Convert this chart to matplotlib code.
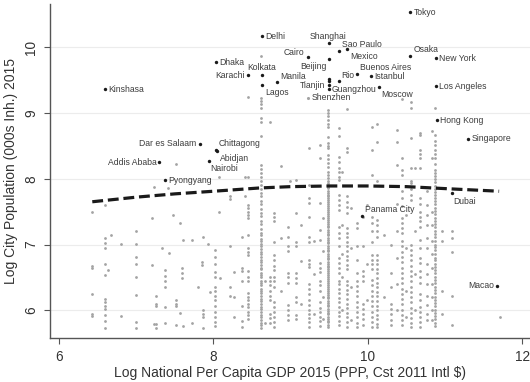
import matplotlib

matplotlib.use("Agg")
import matplotlib.pyplot as plt

# labelled cities (black markers, Shenzhen is grey in the source)
city_names = [
    "Tokyo", "Delhi", "Shanghai", "Sao Paulo", "Mexico", "Cairo", "Beijing",
    "Osaka", "New York", "Dhaka", "Karachi", "Kolkata", "Manila", "Lagos",
    "Tianjin", "Guangzhou", "Rio", "Buenos Aires", "Istanbul", "Moscow",
    "Los Angeles", "Shenzhen", "Kinshasa", "Hong Kong", "Singapore",
    "Dar es Salaam", "Chittagong", "Abidjan", "Addis Ababa", "Nairobi",
    "Pyongyang", "Panama City", "Dubai", "Macao",
]
city_gdp = [
    10.55, 8.63, 9.49, 9.62, 9.73, 9.22, 9.49, 10.55, 10.88, 8.03, 8.45, 8.63,
    8.82, 8.63, 9.49, 9.49, 9.62, 9.86, 10.04, 10.14, 10.88, 9.23, 6.60, 10.89,
    11.30, 7.82, 8.03, 8.05, 7.30, 7.94, 7.37, 9.92, 11.09, 11.67,
]
city_pop = [
    10.53, 10.17, 10.06, 9.95, 9.97, 9.85, 9.82, 9.87, 9.83, 9.77, 9.57, 9.58,
    9.47, 9.42, 9.42, 9.36, 9.48, 9.60, 9.56, 9.39, 9.41, 9.23, 9.36, 8.89,
    8.61, 8.53, 8.44, 8.42, 8.25, 8.27, 7.98, 7.44, 7.78, 6.37,
]

# two unlabelled black points in the China column
extra_gdp = [9.49, 9.49]
extra_pop = [9.52, 9.48]

# all other cities, grouped by country (national GDP, list of city sizes)
grey_columns = [
    (6.42, [7.49, 6.68, 6.65, 6.25, 5.95, 5.91]),
    (6.59, [7.60, 7.10, 7.02, 6.94, 6.71, 6.53, 6.17, 6.12, 6.07, 6.02, 5.93, 5.83, 5.73]),
    (6.64, [6.61]),
    (6.67, [7.15]),
    (6.80, [7.01, 5.91]),
    (7.00, [7.20, 7.01, 6.81, 6.70, 6.50, 6.23, 5.82, 5.73]),
    (7.20, [7.41, 6.69]),
    (7.23, [7.87, 5.79]),
    (7.26, [6.21, 6.10, 6.06, 5.79, 5.73]),
    (7.33, [6.94]),
    (7.37, [6.61, 6.52, 6.44, 6.36, 6.05, 5.81]),
    (7.41, [7.86]),
    (7.42, [6.87]),
    (7.47, [7.45]),
    (7.51, [8.22, 6.16, 6.10, 6.06, 5.78]),
    (7.57, [7.32, 5.96]),
    (7.59, [6.64, 6.56, 6.49]),
    (7.60, [7.07, 5.76]),
    (7.72, [7.07, 5.80]),
    (7.80, [6.36]),
    (7.85, [6.74, 6.69]),
    (7.87, [7.12, 6.00, 5.95, 5.90, 5.73]),
    (7.93, [7.01]),
    (7.96, [6.28]),
    (8.02, [6.92, 6.81, 6.70, 6.58, 6.51, 6.36, 6.30, 6.22, 6.16, 6.06, 5.98, 5.90, 5.82, 5.76]),
    (8.07, [8.03, 7.49]),
    (8.09, [6.49]),
    (8.21, [7.73, 7.69, 6.36]),
    (8.22, [6.97, 6.21]),
    (8.26, [6.58, 6.20, 5.90]),
    (8.37, [7.12, 6.64, 6.59, 6.44, 6.07, 5.83, 5.75]),
    (8.41, [8.02, 7.73]),
    (8.45, [9.25, 8.02, 7.60, 7.55, 7.50, 7.45, 7.40, 7.15, 6.94, 6.89, 6.84, 6.59,
            6.50, 6.44, 6.26, 6.20, 6.16, 6.10, 6.05, 5.98, 5.93, 5.87]),
    (8.61, [9.87, 9.23, 9.18, 9.13, 9.08, 8.93, 8.87, 8.65, 8.21, 8.15, 8.09,
            8.02, 7.96, 7.91, 7.84, 7.78, 7.73, 7.66, 7.61, 7.54, 7.48, 7.43, 7.36,
            7.31, 7.24, 7.18, 7.14, 7.09, 7.05, 7.01, 6.98, 6.93, 6.89, 6.86, 6.81,
            6.77, 6.74, 6.69, 6.65, 6.62, 6.57, 6.53, 6.50, 6.45, 6.41, 6.38, 6.33,
            6.29, 6.26, 6.21, 6.17, 6.14, 6.09, 6.05, 6.02, 5.97, 5.93, 5.90, 5.85,
            5.81, 5.78, 5.73]),
    (8.67, [6.45, 5.80]),
    (8.73, [8.86, 6.51, 6.45, 6.38, 6.30, 6.22, 6.16, 5.95, 5.88, 5.80]),
    (8.79, [7.48, 7.42, 7.36, 7.04, 6.84, 6.76, 6.68, 6.61, 6.51, 6.44, 6.36,
            6.13, 6.05, 5.97, 5.90, 5.82, 5.75]),
    (8.88, [8.19, 7.10, 6.30]),
    (8.97, [7.27, 7.12, 6.97, 6.90, 6.57, 6.50, 6.42, 6.08, 6.00, 5.93, 5.85]),
    (8.99, [7.97]),
    (9.07, [7.98, 7.48, 7.04, 6.97, 6.57, 6.49, 6.42, 6.20, 6.13, 5.93, 5.86]),
    (9.13, [7.30, 6.75, 6.10]),
    (9.24, [8.47, 7.91, 7.71, 7.63, 7.42, 7.12, 7.04, 6.77, 6.70, 6.66, 6.40,
            6.33, 6.25, 6.15, 6.08, 6.00, 5.95, 5.88, 5.82, 5.75]),
    (9.30, [7.05, 6.55, 5.95]),
    (9.38, [8.52, 8.31, 7.63, 7.22, 7.07, 6.72, 6.65, 6.58, 6.45, 6.38, 6.30,
            6.12, 6.04, 5.97, 5.90, 5.83, 5.76]),
    (9.42, [7.40, 6.90, 6.20, 5.86]),
    (9.48, [9.05, 9.00, 8.95, 8.90, 8.84, 8.79, 8.64, 8.55, 8.50, 8.47, 8.36,
            8.30, 8.24, 8.18, 8.11, 8.05, 8.01, 7.97, 7.94, 7.91, 7.88, 7.86, 7.82,
            7.79, 7.76, 7.74, 7.70, 7.67, 7.64, 7.62, 7.58, 7.55, 7.52, 7.50, 7.46,
            7.43, 7.40, 7.38, 7.34, 7.31, 7.28, 7.26, 7.22, 7.19, 7.16, 7.14, 7.10,
            7.07, 7.04, 7.02, 6.98, 6.95, 6.92, 6.90, 6.86, 6.83, 6.80, 6.78, 6.74,
            6.71, 6.68, 6.66, 6.62, 6.59, 6.56, 6.54, 6.50, 6.47, 6.44, 6.42, 6.38,
            6.35, 6.32, 6.30, 6.26, 6.23, 6.20, 6.18, 6.14, 6.11, 6.08, 6.06, 6.02,
            5.99, 5.96, 5.94, 5.90, 5.87, 5.84, 5.82, 5.78, 5.75]),
    (9.62, [8.77, 8.65, 8.33, 8.25, 8.17, 8.10, 8.03, 7.98, 7.75, 7.68, 7.60,
            7.52, 7.27, 7.18, 7.10, 6.97, 6.80, 6.72, 6.65, 6.57, 6.45, 6.40, 6.33,
            6.26, 6.19, 6.12, 6.05, 5.98, 5.91, 5.84, 5.77]),
    (9.66, [8.10, 7.30, 6.85, 6.50, 6.00]),
    (9.73, [9.06, 8.47, 8.41, 7.73, 7.65, 7.57, 7.48, 7.25, 7.18, 7.11, 7.04,
            6.97, 6.90, 6.83, 6.76, 6.69, 6.62, 6.45, 6.38, 6.31, 6.24, 6.17, 6.10,
            6.03, 5.96, 5.89, 5.82, 5.75]),
    (9.78, [7.55, 6.95, 6.35, 5.85]),
    (9.86, [7.33, 7.25, 6.97, 6.77, 6.57, 6.45, 6.37, 6.29, 6.21, 6.13, 6.05,
            5.97, 5.89, 5.81, 5.74]),
    (9.94, [7.42, 6.97, 6.60, 6.52, 6.44, 6.10, 6.02, 5.94, 5.86, 5.78]),
    (9.99, [7.60, 6.70, 6.15]),
    (10.05, [8.79, 8.44, 8.06, 7.42, 7.33, 7.20, 7.04, 6.84, 6.77, 6.70, 6.63,
             6.46, 6.38, 6.30, 6.22, 6.14, 6.06, 5.98, 5.90, 5.82, 5.75]),
    (10.12, [8.84, 8.56, 7.96, 7.38, 7.30, 7.20, 7.12, 6.84, 6.77, 6.70, 6.63,
             6.56, 6.49, 6.42, 6.35, 6.28, 6.21, 6.14, 6.07, 6.00, 5.93, 5.86,
             5.79, 5.74]),
    (10.21, [7.14, 6.20]),
    (10.30, [6.99, 6.57, 6.35, 6.10, 6.02, 5.94, 5.85, 5.77]),
    (10.38, [8.74, 8.56, 8.21, 7.62, 7.20, 6.80, 6.40, 6.00]),
    (10.44, [9.21, 8.32, 8.14, 8.06, 7.82, 7.70, 7.58, 7.41, 7.33, 7.25, 7.17,
             7.05, 6.97, 6.89, 6.81, 6.73, 6.65, 6.57, 6.49, 6.41, 6.33, 6.25,
             6.17, 6.09, 6.01, 5.93, 5.85, 5.77]),
    (10.50, [7.45, 6.95, 6.30, 5.90]),
    (10.56, [9.16, 9.08, 8.62, 8.17, 7.96, 7.93, 7.85, 7.75, 7.68, 7.00, 6.92,
             6.84, 6.76, 6.68, 6.60, 6.52, 6.44, 6.36, 6.28, 6.20, 6.12, 6.04,
             5.96, 5.88, 5.80, 5.74]),
    (10.61, [8.17, 7.20, 6.55, 6.00]),
    (10.68, [8.69, 8.67, 8.44, 8.38, 8.32, 8.17, 7.71, 7.62, 7.50, 7.42, 7.35,
             7.27, 7.07, 6.95, 6.80, 6.72, 6.60, 6.50, 6.42, 6.25, 6.15, 6.05,
             5.98, 5.90, 5.82, 5.75]),
    (10.76, [7.82, 7.60, 7.45, 7.30, 7.10, 6.95, 6.70, 6.55, 6.40, 6.22, 6.08,
             5.95, 5.85]),
    (10.83, [8.73, 8.31, 7.50, 7.30, 7.05, 6.85, 6.65, 6.40, 6.20, 6.00, 5.85]),
    (10.87, [9.08, 8.67, 8.58, 8.52, 8.44, 8.37, 8.31, 8.22, 8.14, 8.09, 8.04,
             7.99, 7.95, 7.89, 7.84, 7.80, 7.76, 7.70, 7.66, 7.61, 7.55, 7.51,
             7.46, 7.41, 7.36, 7.31, 7.26, 7.20, 7.16, 7.11, 7.06, 7.00, 6.96,
             6.91, 6.86, 6.80, 6.76, 6.71, 6.66, 6.61, 6.56, 6.50, 6.46, 6.41,
             6.36, 6.31, 6.26, 6.20, 6.16, 6.11, 6.06, 6.01, 5.96, 5.91, 5.86,
             5.81, 5.76]),
    (10.96, [7.20, 7.05, 6.30, 5.95]),
    (11.09, [7.20, 7.10, 6.89, 6.21, 5.78]),
    (11.71, [5.90]),
]

# quadratic fit
fit_gdp = [6.43, 7.0, 7.5, 8.0, 8.6, 9.0, 9.5, 10.0, 10.5, 11.0, 11.7]
fit_pop = [7.65, 7.72, 7.77, 7.81, 7.86, 7.88, 7.89, 7.89, 7.88, 7.85, 7.81]

# label placement (Stata clock positions) as pixel offsets
label_pos = {
    "Shanghai": "12", "Kolkata": "12", "Sao Paulo": "1", "Osaka": "1",
    "Manila": "1", "Rio": "1", "Buenos Aires": "1", "Chittagong": "1",
    "Panama City": "1", "Mexico": "4", "Lagos": "4", "Moscow": "4",
    "Abidjan": "4", "Nairobi": "5", "Dubai": "5", "Cairo": "11",
    "Beijing": "7", "Karachi": "9", "Tianjin": "9", "Dar es Salaam": "9",
    "Addis Ababa": "9", "Macao": "9",
}
clock = {
    "3": ((3, 0), "left", "center"),
    "12": ((0, 7), "center", "center"),
    "1": ((3, 6), "left", "center"),
    "4": ((3, -7), "left", "center"),
    "5": ((1, -8), "left", "center"),
    "11": ((-3, 5), "right", "center"),
    "7": ((-2, -7), "right", "center"),
    "9": ((-3, 0), "right", "center"),
}

plt.rcParams["font.family"] = ["Liberation Sans", "DejaVu Sans"]

fig = plt.figure(figsize=(5.3, 3.82), dpi=100)
ax = fig.add_axes([0.094, 0.116, 0.906, 0.874])

gx = [x for x, ys in grey_columns for _ in ys]
gy = [y for _, ys in grey_columns for y in ys]
ax.scatter(gx, gy, s=4, color="#a3a3a3", linewidths=0, zorder=2)

is_grey = [n == "Shenzhen" for n in city_names]
ax.scatter([x for x, g in zip(city_gdp, is_grey) if not g],
           [y for y, g in zip(city_pop, is_grey) if not g],
           s=6, color="#1a1a1a", linewidths=0, zorder=3)
ax.scatter([x for x, g in zip(city_gdp, is_grey) if g],
           [y for y, g in zip(city_pop, is_grey) if g],
           s=5, color="#a3a3a3", linewidths=0, zorder=3)
ax.scatter(extra_gdp, extra_pop, s=6, color="#1a1a1a", linewidths=0, zorder=3)

for name, x, y in zip(city_names, city_gdp, city_pop):
    (dx, dy), ha, va = clock[label_pos.get(name, "3")]
    ax.annotate(name, (x, y), xytext=(dx, dy), textcoords="offset pixels",
                ha=ha, va=va, fontsize=6.2, color="#3c3c3c", zorder=4)

ax.plot(fit_gdp, fit_pop, color="#1a1a1a", lw=2.3, dashes=(3.4, 1.5),
        dash_capstyle="butt", zorder=5)

ax.set_xlim(5.88, 12.1)
ax.set_ylim(5.583, 10.66)
ax.set_xticks([6, 8, 10, 12])
ax.set_yticks([6, 7, 8, 9, 10])
ax.grid(axis="y", color="#ececec", lw=0.8, zorder=0)
ax.set_axisbelow(True)

for side in ("top", "right"):
    ax.spines[side].set_visible(False)
for side in ("left", "bottom"):
    ax.spines[side].set_color("#555555")
    ax.spines[side].set_linewidth(1.0)

ax.tick_params(axis="both", direction="out", length=4, width=0.8,
               color="#555555", labelsize=9.8, labelcolor="#333333")
ax.tick_params(axis="x", pad=5)
ax.tick_params(axis="y", pad=4.5)
for lab in ax.get_yticklabels():
    lab.set_rotation(90)
    lab.set_va("center")

ax.set_xlabel("Log National Per Capita GDP 2015 (PPP, Cst 2011 Intl $)",
              fontsize=10, color="#333333", labelpad=1.5)
ax.set_ylabel("Log City Population (000s Inh.) 2015",
              fontsize=10, color="#333333", labelpad=4)

fig.savefig("out.png", dpi=100)
